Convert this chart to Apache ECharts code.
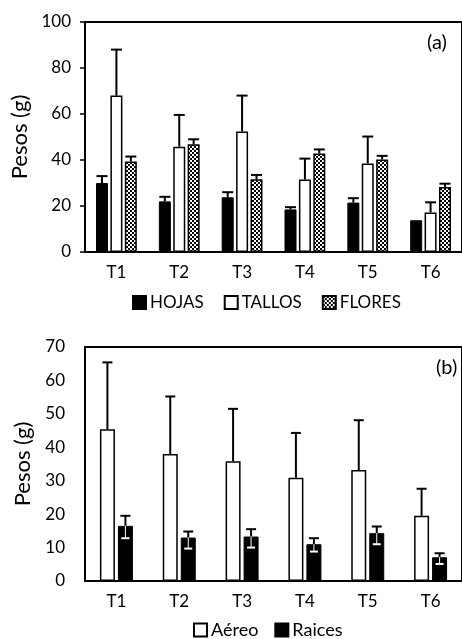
<!DOCTYPE html>
<html>
<head>
<meta charset="utf-8">
<script src="https://cdn.jsdelivr.net/npm/echarts@6/dist/echarts.min.js"></script>
<style>
html,body{margin:0;padding:0;background:#fff;}
#c{width:462px;height:639px;}
</style>
</head>
<body>
<div id="c"></div>
<script>
// ---- data ----
var categories = ['T1', 'T2', 'T3', 'T4', 'T5', 'T6'];
// panel (a)
var hojas     = [30, 22, 23.8, 18.5, 21.5, 13.8];
var hojasTop  = [33, 24, 26, 19.5, 23.4, 13.8];
var tallos    = [68, 45.8, 52.4, 31.5, 38.5, 17.2];
var tallosTop = [88, 59.6, 68, 40.6, 50.2, 21.6];
var flores    = [39.4, 46.8, 31.6, 42.8, 40.2, 28.3];
var floresTop = [41.5, 49, 33.5, 44.6, 41.8, 29.7];
var ticksA = [0, 20, 40, 60, 80, 100];
// panel (b)
var aereo     = [45.4, 38, 35.8, 30.9, 33.2, 19.5];
var aereoTop  = [65.4, 55.2, 51.5, 44.3, 48.1, 27.6];
var raices    = [16.5, 13.0, 13.3, 11.0, 14.3, 7.1];
var raicesTop = [19.5, 14.8, 15.5, 12.8, 16.3, 8.3];
var raicesLow = [12.8, 9.7, 10.0, 8.8, 11.0, 5.1];
var ticksB = [0, 10, 20, 30, 40, 50, 60, 70];

var FONT = 'Lato';

// checkered pattern
var pc = document.createElement('canvas');
pc.width = 4; pc.height = 4;
var pctx = pc.getContext('2d');
pctx.fillStyle = '#fff'; pctx.fillRect(0, 0, 4, 4);
pctx.fillStyle = '#000';
pctx.fillRect(0, 0, 2, 2); pctx.fillRect(2, 2, 2, 2);
var checker = { image: pc, repeat: 'repeat' };

var BW_A = 12, BW_B = 15, GAP = 0.2;

function errSeries(name, gridIdx, vals, tops, lows, idx, n, bw, cap) {
  var data = categories.map(function (c, i) {
    return [i, vals[i], tops[i], lows ? lows[i] : vals[i]];
  });
  return {
    type: 'custom', name: name + '_err', xAxisIndex: gridIdx, yAxisIndex: gridIdx,
    z: 5, silent: true, legendHoverLink: false,
    data: data,
    renderItem: function (params, api) {
      var gap = bw * GAP;
      var total = n * bw + (n - 1) * gap;
      var base = api.coord([api.value(0), 0]);
      var cx = base[0] - total / 2 + idx * (bw + gap) + bw / 2;
      var yv = api.coord([api.value(0), api.value(1)])[1];
      var yt = api.coord([api.value(0), api.value(2)])[1];
      var yl = api.coord([api.value(0), api.value(3)])[1];
      var kids = [];
      if (Math.abs(yt - yv) > 0.5) {
        kids.push({ type: 'line', shape: { x1: cx, y1: yv, x2: cx, y2: yt }, style: { stroke: '#000', lineWidth: 2 } });
        kids.push({ type: 'line', shape: { x1: cx - cap / 2, y1: yt, x2: cx + cap / 2, y2: yt }, style: { stroke: '#000', lineWidth: 2 } });
      }
      if (Math.abs(yl - yv) > 0.5) {
        kids.push({ type: 'line', shape: { x1: cx, y1: yv, x2: cx, y2: yl }, style: { stroke: '#fff', lineWidth: 1 } });
        kids.push({ type: 'line', shape: { x1: cx - cap / 2 + 1, y1: yl, x2: cx + cap / 2 - 1, y2: yl }, style: { stroke: '#fff', lineWidth: 2 } });
      }
      return { type: 'group', children: kids };
    }
  };
}

var axisLabelStyle = { color: '#000', fontFamily: FONT, fontSize: 17 };

var option = {
  animation: false,
  backgroundColor: '#fff',
  textStyle: { fontFamily: FONT },
  grid: [
    { left: 85, top: 22, width: 386, height: 230, show: true, borderColor: '#000', borderWidth: 2, containLabel: false },
    { left: 85, top: 347, width: 390, height: 234, show: true, borderColor: '#000', borderWidth: 2, containLabel: false }
  ],
  xAxis: [
    { type: 'category', gridIndex: 0, data: categories,
      axisLine: { lineStyle: { color: '#000', width: 2 } }, axisTick: { show: false },
      axisLabel: Object.assign({ margin: 12 }, axisLabelStyle) },
    { type: 'category', gridIndex: 1, data: categories,
      axisLine: { lineStyle: { color: '#000', width: 2 } }, axisTick: { show: false },
      axisLabel: Object.assign({ margin: 12 }, axisLabelStyle) }
  ],
  yAxis: [
    { type: 'value', gridIndex: 0, min: ticksA[0], max: ticksA[ticksA.length - 1], interval: ticksA[1] - ticksA[0],
      name: 'Pesos (g)', nameLocation: 'middle', nameGap: 50,
      nameTextStyle: { color: '#000', fontFamily: FONT, fontSize: 22 },
      axisLine: { show: true, lineStyle: { color: '#000', width: 2 } },
      axisTick: { show: true, length: 5, lineStyle: { color: '#000', width: 1.5 } },
      splitLine: { show: false },
      axisLabel: Object.assign({ margin: 14 }, axisLabelStyle) },
    { type: 'value', gridIndex: 1, min: ticksB[0], max: ticksB[ticksB.length - 1], interval: ticksB[1] - ticksB[0],
      name: 'Pesos (g)', nameLocation: 'middle', nameGap: 50,
      nameTextStyle: { color: '#000', fontFamily: FONT, fontSize: 22 },
      axisLine: { show: true, lineStyle: { color: '#000', width: 2 } },
      axisTick: { show: false },
      splitLine: { show: false },
      axisLabel: Object.assign({ margin: 20 }, axisLabelStyle) }
  ],
  legend: [
    { data: ['HOJAS', 'TALLOS', 'FLORES'], left: 132, top: 294, padding: 0, itemWidth: 13, itemHeight: 13, itemGap: 20,
      icon: 'rect', textStyle: { color: '#000', fontFamily: FONT, fontSize: 17, padding: [0, 0, 0, -1] } },
    { data: ['Aéreo', 'Raices'], left: 193, top: 621, padding: 0, itemWidth: 13, itemHeight: 13, itemGap: 16,
      icon: 'rect', textStyle: { color: '#000', fontFamily: FONT, fontSize: 18, padding: [0, 0, 0, -1] } }
  ],
  graphic: [
    { type: 'text', left: 427, top: 33, style: { text: '(a)', fill: '#000', font: '20px "' + FONT + '"' } },
    { type: 'text', left: 436, top: 358, style: { text: '(b)', fill: '#000', font: '20px "' + FONT + '"' } }
  ],
  series: [
    { type: 'bar', name: 'HOJAS', xAxisIndex: 0, yAxisIndex: 0, data: hojas, barWidth: BW_A, barGap: '20%',
      itemStyle: { color: '#000', borderColor: '#000', borderWidth: 1 } },
    { type: 'bar', name: 'TALLOS', xAxisIndex: 0, yAxisIndex: 0, data: tallos, barWidth: BW_A, barGap: '20%',
      itemStyle: { color: '#fff', borderColor: '#000', borderWidth: 1.5 } },
    { type: 'bar', name: 'FLORES', xAxisIndex: 0, yAxisIndex: 0, data: flores, barWidth: BW_A, barGap: '20%',
      itemStyle: { color: checker, borderColor: '#000', borderWidth: 1.5 } },
    errSeries('HOJAS', 0, hojas, hojasTop, null, 0, 3, BW_A, 11),
    errSeries('TALLOS', 0, tallos, tallosTop, null, 1, 3, BW_A, 11),
    errSeries('FLORES', 0, flores, floresTop, null, 2, 3, BW_A, 11),

    { type: 'bar', name: 'Aéreo', xAxisIndex: 1, yAxisIndex: 1, data: aereo, barWidth: BW_B, barGap: '20%',
      itemStyle: { color: '#fff', borderColor: '#000', borderWidth: 1.5 } },
    { type: 'bar', name: 'Raices', xAxisIndex: 1, yAxisIndex: 1, data: raices, barWidth: BW_B, barGap: '20%',
      itemStyle: { color: '#000', borderColor: '#000', borderWidth: 1 } },
    errSeries('Aéreo', 1, aereo, aereoTop, null, 0, 2, BW_B, 10),
    errSeries('Raices', 1, raices, raicesTop, raicesLow, 1, 2, BW_B, 10)
  ]
};

var chart = echarts.init(document.getElementById('c'), null, { renderer: 'canvas' });
chart.setOption(option);
</script>
</body>
</html>
